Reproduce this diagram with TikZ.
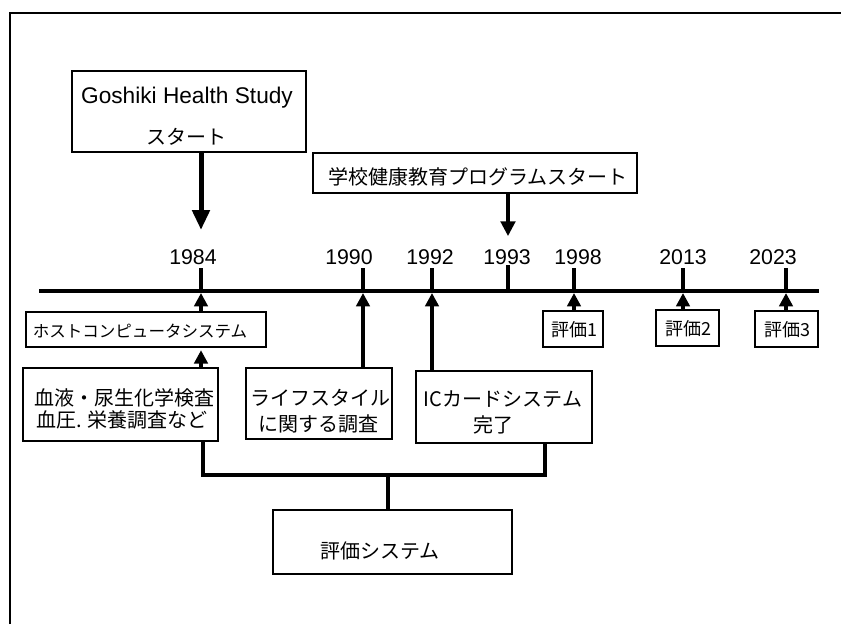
\documentclass[tikz,border=0pt]{standalone}
\usepackage{fontspec}
\newfontfamily\jp{Noto Sans CJK JP}
\newfontfamily\lat{Liberation Sans}
\usetikzlibrary{arrows.meta,fit}
\begin{document}
\begin{tikzpicture}[x=0.75pt,y=-0.75pt,
  boxed/.style={draw, line width=1.8pt, inner sep=0pt},
  jptext/.style={font=\jp\fontsize{15pt}{18pt}\selectfont, inner sep=0pt},
  jpsmall/.style={font=\jp\fontsize{13.5pt}{16pt}\selectfont, inner sep=0pt},
  jphost/.style={font=\jp\fontsize{12.4pt}{15pt}\selectfont, inner sep=0pt},
  lattext/.style={font=\lat\fontsize{17pt}{20pt}\selectfont, inner sep=0pt},
  yearlbl/.style={font=\lat\fontsize{16pt}{19pt}\selectfont, inner sep=0pt},
  tline/.style={line width=3pt},
  yeartick/.style={line width=3pt},
  bigarr/.style={line width=3.75pt, -{Triangle[width=12.75pt,length=15pt]}},
  midarr/.style={line width=2.3pt, -{Triangle[width=11pt,length=11pt]}},
  uparr/.style={line width=2.5pt, -{Triangle[width=10pt,length=10pt]}, shorten >=1.5pt},
  brk/.style={line width=3pt, line join=miter}
]
\useasboundingbox (0,0) rectangle (841,624);
\fill[white] (0,0) rectangle (841,624);
% outer frame
\draw[line width=2pt] (10,624) -- (10,13) -- (841,13);

% Goshiki box
\node[boxed, fit={(72,71)(306,152)}] (gosh) {};
\node[lattext] (goshA) at (187,98) {Goshiki Health Study};
\node[jptext] (goshB) at (186,137) {スタート};

% school program box
\node[boxed, fit={(313,153)(637,193)}] (school) {};
\node[jptext] (schoolT) at (478,177) {学校健康教育プログラムスタート};

% years and timeline
\foreach \yr/\lx/\tx in {1984/193/201, 1990/349/363, 1992/430/432, 1993/507/508, 1998/578/574, 2013/683/683, 2023/773/786} {
  \node[yearlbl] (l\yr) at (\lx,257) {\yr};
  \coordinate (t\yr) at (\tx,291);
}
\coordinate (tlL) at (39,291);
\coordinate (tlR) at (819,291);
\draw[tline] (tlL) -- (tlR);
\foreach \yr in {1984,1990,1992,1998,2013,2023} {
  \draw[yeartick] (t\yr) -- ++(0,-23);
}
\draw[yeartick] (t1993) -- ++(0,-26);

% downward arrows
\coordinate (gtip) at (201,230);
\draw[bigarr] (gosh.south -| gtip) -- (gtip);
\coordinate (stip) at (508,236);
\draw[midarr] (school.south -| stip) -- (stip);

% host computer box
\node[boxed, fit={(26,312)(266,347)}] (host) {};
\node[jphost] (hostT) at (140,331) {ホストコンピュータシステム};

% blood box
\node[boxed, fit={(23,368)(218,441)}] (blood) {};
\node[jptext] (bloodA) at (124,398) {血液・尿生化学検査};
\node[jptext] (bloodB) at (122,420) {血圧. 栄養調査など};

% lifestyle box
\node[boxed, fit={(246,368)(392,439)}] (life) {};
\node[jptext] (lifeA) at (320,398) {ライフスタイル};
\node[jptext] (lifeB) at (318,424) {に関する調査};

% IC card box
\node[boxed, fit={(416,371)(592,443)}] (ic) {};
\node[jptext] (icA) at (503,399) {ICカードシステム};
\node[jptext] (icB) at (493,425) {完了};

% evaluation boxes
\node[boxed, fit={(543,311)(603,347)}] (e1) {};
\node[jpsmall] (e1T) at (574,330) {評価1};
\node[boxed, fit={(656,310)(719,346)}] (e2) {};
\node[jpsmall] (e2T) at (688,329) {評価2};
\node[boxed, fit={(755,311)(818,347)}] (e3) {};
\node[jpsmall] (e3T) at (787,330) {評価3};

% upward arrows
\draw[uparr] (host.north -| t1984) -- (t1984);
\draw[uparr] (blood.north -| t1984) -- (host.south -| t1984);
\draw[uparr] (life.north -| t1990) -- (t1990);
\draw[uparr] (ic.north -| t1992) -- (t1992);
\draw[uparr] (e1.north -| t1998) -- (t1998);
\draw[uparr] (e2.north -| t2013) -- (t2013);
\draw[uparr] (e3.north -| t2023) -- (t2023);

% evaluation system
\node[boxed, fit={(273,510)(512,574)}] (evsys) {};
\node[jptext] (evsysT) at (380,551) {評価システム};

% bracket
\coordinate (bL) at (203,475);
\coordinate (bR) at (545,475);
\coordinate (bM) at (388,475);
\draw[brk] (blood.south -| bL) -- (bL) -- (bR) -- (ic.south -| bR);
\draw[brk] (bM) -- (evsys.north -| bM);
\end{tikzpicture}
\end{document}
